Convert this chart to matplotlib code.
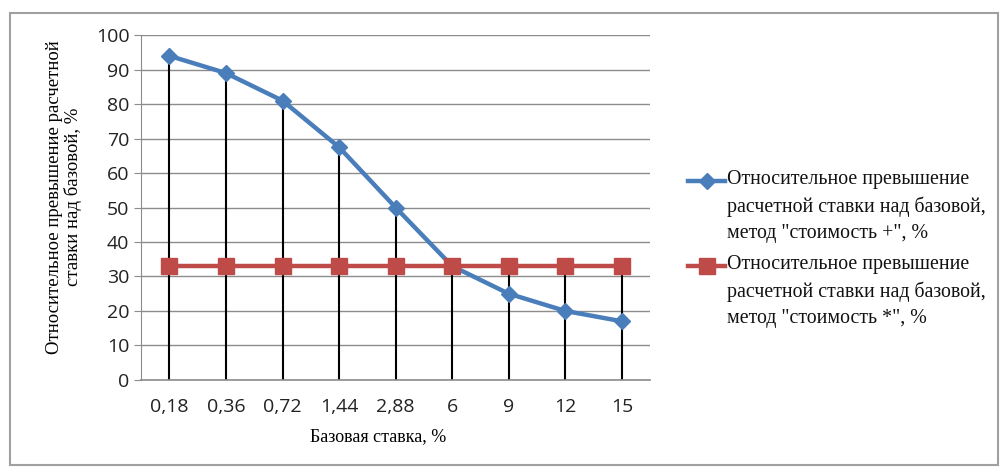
import matplotlib.pyplot as plt
from matplotlib.lines import Line2D
from matplotlib.patches import Rectangle

# Базовая ставка, % (categories)
base_rates = ['0,18', '0,36', '0,72', '1,44', '2,88', '6', '9', '12', '15']
cost_plus = [94, 89, 81, 67.5, 50, 33, 25, 20, 17]
cost_star = [33, 33, 33, 33, 33, 33, 33, 33, 33]
legend_labels = ['Относительное превышение\nрасчетной ставки над базовой,\nметод "стоимость +", %',
                 'Относительное превышение\nрасчетной ставки над базовой,\nметод "стоимость *", %']

blue = '#4a7ebb'
red = '#be4b48'
serif = 'Liberation Serif'
sans = 'Open Sans'

fig = plt.figure(figsize=(10.08, 4.69), dpi=100)
ax = fig.add_axes([0.14, 0.19, 0.505, 0.735])

x = range(len(base_rates))

# drop lines from the highest point down to the axis
for i in x:
    top = max(cost_plus[i], cost_star[i])
    ax.plot([i, i], [0, top], color='black', lw=1.5, zorder=2)

ax.plot(x, cost_plus, color=blue, lw=3.2, marker='D', ms=8, zorder=3)
ax.plot(x, cost_star, color=red, lw=3.2, marker='s', ms=11, zorder=3)

ax.set_xlim(-0.5, len(base_rates) - 0.5)
ax.set_ylim(0, 100)
ax.set_yticks(range(0, 101, 10))
ax.set_xticks(list(x))
ax.set_xticklabels(base_rates)
ax.grid(axis='y', color='#8c8c8c', lw=1)
ax.set_axisbelow(True)
for s in ['top', 'right']:
    ax.spines[s].set_visible(False)
ax.spines['left'].set_color('#8c8c8c')
ax.spines['bottom'].set_color('#8c8c8c')
ax.spines['bottom'].set_linewidth(1.2)
ax.tick_params(axis='x', length=0, pad=13, labelsize=14, colors='#222222')
ax.tick_params(axis='y', length=5, color='#8c8c8c', labelsize=14, colors='#222222')
for t in ax.get_xticklabels() + ax.get_yticklabels():
    t.set_fontfamily(sans)

ax.set_xlabel('Базовая ставка, %', fontfamily=serif, fontsize=13)
ax.xaxis.set_label_coords(0.465, -0.14)
ax.set_ylabel('Относительное превышение расчетной\nставки над базовой, %',
              fontfamily=serif, fontsize=13.5, linespacing=1.05)
ax.yaxis.set_label_coords(-0.116, 0.53)

# legend, Excel style: handle beside the first line of each entry
entries = [(blue, 'D', 8, legend_labels[0], 0.615), (red, 's', 11, legend_labels[1], 0.433)]
for color, mk, ms, label, y in entries:
    fig.add_artist(Line2D([0.683, 0.719], [y, y], color=color, lw=3.2,
                          transform=fig.transFigure))
    fig.add_artist(Line2D([0.701], [y], color=color, marker=mk, ms=ms,
                          transform=fig.transFigure))
    fig.text(0.721, y + 0.023, label, family=serif, fontsize=14.3, va='top',
             linespacing=1.5, color='#111111')

# chart border
fig.patches.append(Rectangle((0.01, 0.008), 0.98, 0.965, transform=fig.transFigure,
                             fill=False, edgecolor='#a0a0a0', lw=1.5))

fig.savefig('out.png', dpi=100)
